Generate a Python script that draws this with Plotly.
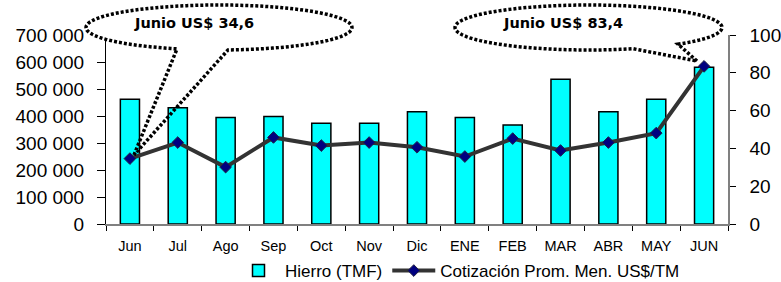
import numpy as np
import plotly.graph_objects as go

months = ["Jun", "Jul", "Ago", "Sep", "Oct", "Nov", "Dic", "ENE", "FEB", "MAR", "ABR", "MAY", "JUN"]
hierro = [462000, 431000, 394000, 398000, 373000, 373000, 416000, 394000, 367000, 536000, 416000, 462000, 581000]
cotizacion = [34.6, 43.1, 30.1, 45.8, 41.5, 43.1, 40.6, 35.7, 45.2, 38.9, 43.1, 48.1, 83.4]

left_ticks = [0, 100000, 200000, 300000, 400000, 500000, 600000, 700000]
left_ticktext = ["0", "100 000", "200 000", "300 000", "400 000", "500 000", "600 000", "700 000"]
right_ticks = [0, 20, 40, 60, 80, 100]

callout_texts = ["Junio US$ 34,6", "Junio US$ 83,4"]

W, H = 781, 282
ML, MR, MT, MB = 106, 53, 35, 58
PW = W - ML - MR
PH = H - MT - MB


def px(x):
    return (x - ML) / PW


def py(y):
    return (H - MB - y) / PH


def ellipse_pts(cx, cy, rx, ry, a0, a1, n=120):
    t = np.linspace(a0, a1, n)
    return [(cx + rx * np.cos(a), cy + ry * np.sin(a)) for a in t]


def path_from(points, close=False):
    s = "M " + " L ".join(f"{px(x):.5f},{py(y):.5f}" for x, y in points)
    if close:
        s += " Z"
    return s


def angle_at_lower_x(cx, rx, x):
    return np.arccos((x - cx) / rx)


fig = go.Figure()

fig.add_trace(go.Bar(
    x=months, y=hierro, name="Hierro (TMF)",
    marker=dict(color="#00FFFF", line=dict(color="#000000", width=1.5)),
    width=0.4, yaxis="y",
))
fig.add_trace(go.Scatter(
    x=months, y=cotizacion, name="Cotización Prom. Men. US$/TM",
    mode="lines+markers", yaxis="y2",
    line=dict(color="#333333", width=4),
    marker=dict(symbol="diamond", size=9, color="#000080", line=dict(color="#222244", width=1)),
))

shapes = []
dot = dict(color="#000000", width=3.5, dash="3px,2px")

# Left callout
cx, cy, rx, ry = 219, 27.5, 133, 22.5
tip = (134, 155)
a_start = angle_at_lower_x(cx, rx, 177)
a_end = angle_at_lower_x(cx, rx, 228) + 2 * np.pi
shapes.append(dict(type="path", xref="paper", yref="paper", layer="above",
                   path=path_from(ellipse_pts(cx, cy, rx, ry, 0, 2 * np.pi), close=True),
                   fillcolor="white", line=dict(width=0)))
pts = [tip] + ellipse_pts(cx, cy, rx, ry, a_start, a_end) + [tip]
shapes.append(dict(type="path", xref="paper", yref="paper", layer="above",
                   path=path_from(pts), line=dot))

# Right callout
cx2, cy2, rx2, ry2 = 588.5, 27.5, 133.5, 22.5
tip2 = (697, 61)
b_start = angle_at_lower_x(cx2, rx2, 678)
b_end = angle_at_lower_x(cx2, rx2, 633)
shapes.append(dict(type="path", xref="paper", yref="paper", layer="above",
                   path=path_from(ellipse_pts(cx2, cy2, rx2, ry2, 0, 2 * np.pi), close=True),
                   fillcolor="white", line=dict(width=0)))
pts2 = [tip2] + ellipse_pts(cx2, cy2, rx2, ry2, b_start, b_end - 2 * np.pi) + [tip2]
shapes.append(dict(type="path", xref="paper", yref="paper", layer="above",
                   path=path_from(pts2), line=dot))

annotations = [
    dict(text=f"<b>{callout_texts[0]}</b>", x=px(194), y=py(23.3), xref="paper", yref="paper",
         showarrow=False, font=dict(family="DejaVu Sans", size=14.5, color="#000000"),
         xanchor="center", yanchor="middle"),
    dict(text=f"<b>{callout_texts[1]}</b>", x=px(563), y=py(23.3), xref="paper", yref="paper",
         showarrow=False, font=dict(family="DejaVu Sans", size=14.5, color="#000000"),
         xanchor="center", yanchor="middle"),
]

fig.update_layout(
    width=W, height=H,
    margin=dict(l=ML, r=MR, t=MT, b=MB, pad=0, autoexpand=False),
    paper_bgcolor="white", plot_bgcolor="white",
    font=dict(family="Liberation Sans, Arial, sans-serif", color="#000000"),
    showlegend=True,
    legend=dict(orientation="h", xref="container", yref="container",
                x=232 / W, y=1 - 253 / H, xanchor="left", yanchor="top",
                font=dict(size=17, family="Liberation Sans, Arial"), itemwidth=43,
                bgcolor="rgba(0,0,0,0)", tracegroupgap=0),
    bargap=0.6,
    xaxis=dict(
        type="category", showgrid=False, showline=True, linecolor="#808080", linewidth=1.5,
        ticks="outside", ticklen=5, tickcolor="#000000", tickwidth=1, tickson="boundaries",
        tickfont=dict(size=14.5, family="Liberation Sans, Arial"), ticklabelstandoff=8,
        range=[-0.5, 12.5], zeroline=False, automargin=False,
    ),
    yaxis=dict(
        range=[0, 700000], tickvals=left_ticks, ticktext=left_ticktext,
        showgrid=False, showline=True, linecolor="#000000", linewidth=1,
        ticks="outside", ticklen=8, tickcolor="#000000",
        tickfont=dict(size=19, family="Liberation Sans, Arial"), ticklabelstandoff=9,
        zeroline=False, automargin=False,
    ),
    yaxis2=dict(
        range=[0, 100], tickvals=right_ticks, overlaying="y", side="right",
        showgrid=False, showline=True, linecolor="#808080", linewidth=1.5,
        ticks="outside", ticklen=6, tickcolor="#000000",
        tickfont=dict(size=19, family="Liberation Sans, Arial"), ticklabelstandoff=10,
        zeroline=False, automargin=False,
    ),
    shapes=shapes,
    annotations=annotations,
)

fig.write_html("out.html", config={"displayModeBar": False},
               post_script="document.body.style.margin='0px';")
